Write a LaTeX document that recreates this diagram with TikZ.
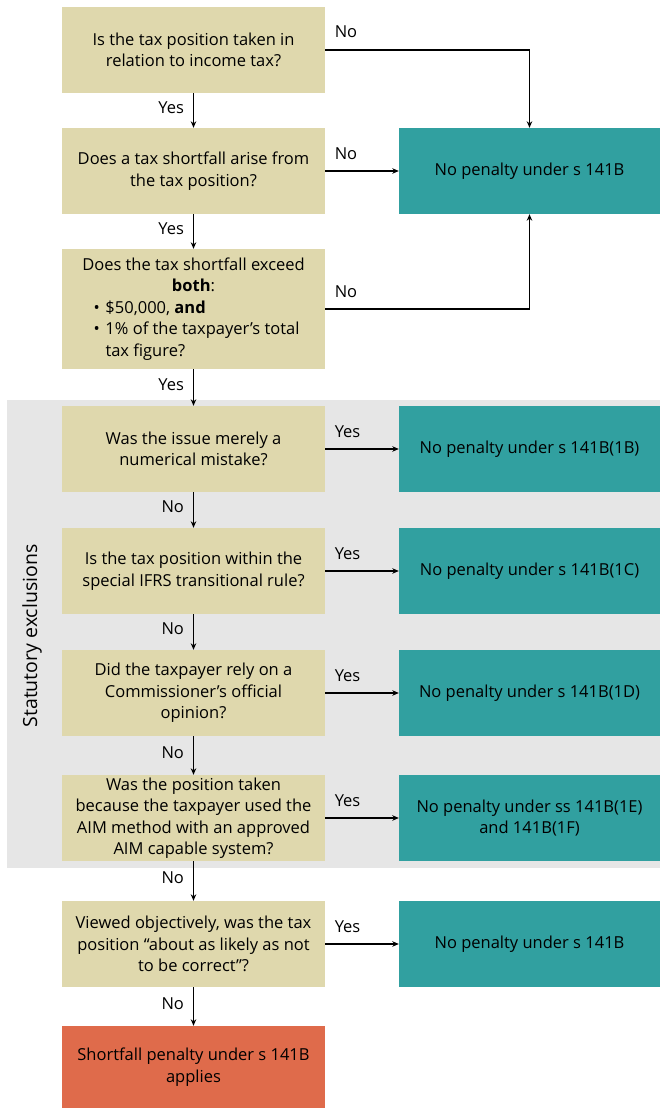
\documentclass[tikz,border=0pt]{standalone}
\usepackage{fontspec}
\setmainfont{Open Sans}
\usetikzlibrary{arrows.meta}
\definecolor{qtan}{HTML}{DFD8AD}
\definecolor{rteal}{HTML}{31A0A0}
\definecolor{rorange}{HTML}{DF6B4B}
\definecolor{bandgray}{HTML}{E6E6E6}
\newcommand\qfont{\fontsize{16.5}{21.5}\selectfont}
\begin{document}
\begin{tikzpicture}[x=1pt,y=-1pt,
  q/.style={fill=qtan, minimum width=263pt, minimum height=86pt, align=center, inner sep=0pt, font=\qfont},
  r/.style={fill=rteal, minimum width=261pt, minimum height=86pt, align=center, inner sep=0pt, font=\qfont},
  fin/.style={fill=rorange, minimum width=263pt, minimum height=82pt, align=center, inner sep=0pt, font=\qfont},
  conn/.style={draw=black, line width=1.1pt, -{Stealth[length=6.5pt,width=5.5pt]}},
  vlab/.style={font=\qfont, inner sep=0pt, anchor=mid east, xshift=-9pt},
  hlab/.style={font=\qfont, inner sep=0pt, anchor=base west, pos=0, xshift=9pt, yshift=12pt}]
\useasboundingbox (0,0) rectangle (660,1108);
\fill[bandgray] (7,400) rectangle (660,868);
\node[font=\fontsize{19.5}{24}\selectfont, rotate=90, inner sep=0pt] (band) at (32,636) {Statutory exclusions};

\node[q] (q1) at (193.5,50) {Is the tax position taken in\\relation to income tax?};
\node[q] (q2) at (193.5,171) {Does a tax shortfall arise from\\the tax position?};
\node[r] (r1) at (529.5,171) {No penalty under s 141B};
\node[q, minimum height=120pt] (q3) at (193.5,309) {\begin{minipage}{240pt}\centering
Does the tax shortfall exceed\\\textbf{both}:\par
\raggedright\leftskip=20pt
\makebox[12pt][l]{•}\$50,000, \textbf{and}\par
\hangindent=12pt\makebox[12pt][l]{•}1\% of the taxpayer’s total\newline tax figure?\par
\end{minipage}};
\node[q] (q4) at (193.5,449) {Was the issue merely a\\numerical mistake?};
\node[r] (r2) at (529.5,449) {No penalty under s 141B(1B)};
\node[q] (q5) at (193.5,571) {Is the tax position within the\\special IFRS transitional rule?};
\node[r] (r3) at (529.5,571) {No penalty under s 141B(1C)};
\node[q] (q6) at (193.5,693) {Did the taxpayer rely on a\\Commissioner’s official\\opinion?};
\node[r] (r4) at (529.5,693) {No penalty under s 141B(1D)};
\node[q] (q7) at (193.5,818) {Was the position taken\\because the taxpayer used the\\AIM method with an approved\\AIM capable system?};
\node[r] (r5) at (529.5,818) {No penalty under ss 141B(1E)\\and 141B(1F)};
\node[q] (q8) at (193.5,944) {Viewed objectively, was the tax\\position “about as likely as not\\to be correct”?};
\node[r] (r6) at (529.5,944) {No penalty under s 141B};
\node[fin] (q9) at (193.5,1067) {Shortfall penalty under s 141B\\applies};

\draw[conn] (q1) -- node[vlab] {Yes} (q2);
\draw[conn] (q2) -- node[vlab] {Yes} (q3);
\draw[conn] (q3) -- node[vlab] {Yes} (q4);
\draw[conn] (q4) -- node[vlab] {No} (q5);
\draw[conn] (q5) -- node[vlab] {No} (q6);
\draw[conn] (q6) -- node[vlab] {No} (q7);
\draw[conn] (q7) -- node[vlab] {No} (q8);
\draw[conn] (q8) -- node[vlab] {No} (q9);

\draw[conn] (q1) -| node[hlab] {No} (r1);
\draw[conn] (q2) -- node[hlab] {No} (r1);
\draw[conn] (q3) -| node[hlab] {No} (r1);
\draw[conn] (q4) -- node[hlab] {Yes} (r2);
\draw[conn] (q5) -- node[hlab] {Yes} (r3);
\draw[conn] (q6) -- node[hlab] {Yes} (r4);
\draw[conn] (q7) -- node[hlab] {Yes} (r5);
\draw[conn] (q8) -- node[hlab] {Yes} (r6);
\end{tikzpicture}
\end{document}
